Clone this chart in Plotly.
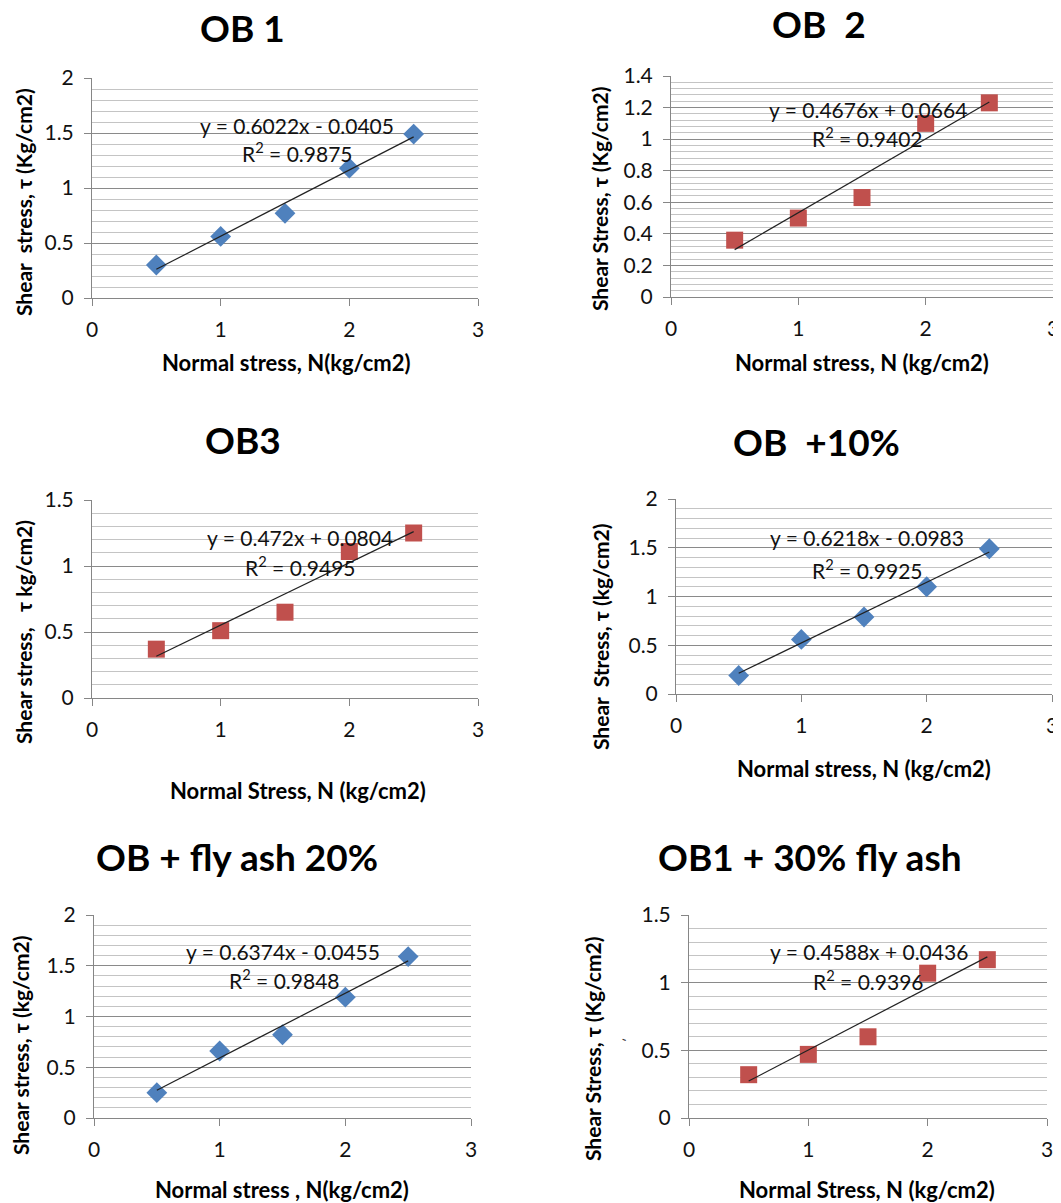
import plotly.graph_objects as go

W, H = 1061, 1203
PAGE_MARGIN = 8  # the browser's default body margin around the figure
FW, FH = W - PAGE_MARGIN, H - PAGE_MARGIN

# ---- data ----
normal_stress = [0.5, 1.0, 1.5, 2.0, 2.5]
tau_ob1 = [0.30, 0.56, 0.77, 1.18, 1.49]
tau_ob2 = [0.36, 0.50, 0.63, 1.10, 1.23]
tau_ob3 = [0.37, 0.51, 0.65, 1.11, 1.25]
tau_ob10 = [0.19, 0.56, 0.79, 1.10, 1.49]
tau_ob20 = [0.25, 0.66, 0.82, 1.19, 1.59]
tau_ob30 = [0.32, 0.47, 0.60, 1.07, 1.17]

panel_titles = ["OB 1", "OB  2", "OB3", "OB  +10%", "OB + fly ash 20%", "OB1 + 30% fly ash"]
x_titles = ["Normal stress, N(kg/cm2)", "Normal stress, N (kg/cm2)", "Normal Stress, N (kg/cm2)",
            "Normal stress, N (kg/cm2)", "Normal stress , N(kg/cm2)", "Normal Stress, N (kg/cm2)"]
y_titles = ["Shear  stress, τ (Kg/cm2)", "Shear Stress, τ (Kg/cm2)", "Shear stress,   τ kg/cm2)",
            "Shear  Stress, τ (kg/cm2)", "Shear stress, τ (kg/cm2)", "Shear Stress, τ (Kg/cm2)"]
slopes = [0.6022, 0.4676, 0.472, 0.6218, 0.6374, 0.4588]
intercepts = [-0.0405, 0.0664, 0.0804, -0.0983, -0.0455, 0.0436]
eq_labels = ["y = 0.6022x - 0.0405", "y = 0.4676x + 0.0664", "y = 0.472x + 0.0804",
             "y = 0.6218x - 0.0983", "y = 0.6374x - 0.0455", "y = 0.4588x + 0.0436"]
r2_labels = ["0.9875", "0.9402", "0.9495", "0.9925", "0.9848", "0.9396"]
y_max = [2, 1.4, 1.5, 2, 2, 1.5]
y_major = [0.5, 0.2, 0.5, 0.5, 0.5, 0.5]
y_minor = [0.1, 0.04, 0.1, 0.1, 0.1, 0.1]
x_max = 3
x_major = 1

series = [tau_ob1, tau_ob2, tau_ob3, tau_ob10, tau_ob20, tau_ob30]
symbols = ["diamond", "square", "square", "diamond", "diamond", "square"]
colors = {"diamond": "#4F81BD", "square": "#C0504D"}
sizes = {"diamond": 16, "square": 17}

# ---- layout geometry (page pixels) ----
plot_boxes = [  # x0, x1, ytop, ybottom
    (92, 478, 78, 298),
    (671, 1053, 76, 297),
    (92, 478, 500, 698),
    (676, 1052, 499, 694),
    (94, 471, 915, 1118),
    (689, 1047, 915, 1118),
]
title_pos = [(242, 27), (819, 24), (243, 440), (816, 441), (237, 856), (810, 856)]
xtitle_pos = [(286, 362), (862, 362), (298, 790), (864, 768), (282, 1189), (867, 1189)]
ytitle_pos = [(23, 202), (600, 199), (23, 632), (600, 637), (20, 1046), (592, 1049)]
eq_pos = [((297, 125), (297, 152)), ((868, 109), (867, 137)), ((300, 537), (300, 566)),
          ((867, 538), (867, 569)), ((283, 951), (284, 979)), ((869, 951), (868, 980))]

FONT = "Lato"
fig = go.Figure()
annotations = []

def px(x):
    return (x - PAGE_MARGIN) / FW

def py(y):
    return 1 - (y - PAGE_MARGIN) / FH

for i in range(6):
    ax = "" if i == 0 else str(i + 1)
    xa, ya = "x" + ax, "y" + ax
    sym = symbols[i]
    fig.add_trace(go.Scatter(
        x=normal_stress, y=series[i], mode="markers", xaxis=xa, yaxis=ya,
        marker=dict(symbol=sym, color=colors[sym], size=sizes[sym], line=dict(width=0)),
        showlegend=False, cliponaxis=False))
    xs = [normal_stress[0], normal_stress[-1]]
    fig.add_trace(go.Scatter(
        x=xs, y=[slopes[i] * v + intercepts[i] for v in xs], mode="lines",
        xaxis=xa, yaxis=ya, line=dict(color="#222222", width=1.2), showlegend=False))

    x0, x1, yt, yb = plot_boxes[i]
    fig.layout["xaxis" + ax] = dict(
        domain=[px(x0), px(x1)], anchor=ya, range=[0, x_max], dtick=x_major, tick0=0,
        showgrid=False, zeroline=False, showline=True, linecolor="#868686", linewidth=1,
        ticks="outside", ticklen=7, tickcolor="#868686", automargin=False,
        tickfont=dict(family=FONT, size=21, color="#111111"), ticklabelstandoff=6,
        fixedrange=True)
    fig.layout["yaxis" + ax] = dict(
        domain=[py(yb), py(yt)], anchor=xa, range=[0, y_max[i]], dtick=y_major[i], tick0=0,
        showgrid=True, gridcolor="#8a8a8a", gridwidth=1, zeroline=False,
        showline=True, linecolor="#868686", linewidth=1, automargin=False,
        ticks="outside", ticklen=7, tickcolor="#868686",
        tickfont=dict(family=FONT, size=21, color="#111111"), ticklabelstandoff=6,
        minor=dict(dtick=y_minor[i], tick0=0, showgrid=True, gridcolor="#c4c4c4", gridwidth=1),
        fixedrange=True)

    tx, ty = title_pos[i]
    annotations.append(dict(text="<b>%s</b>" % panel_titles[i], x=px(tx), y=py(ty),
                            xref="paper", yref="paper", showarrow=False, xanchor="center",
                            yanchor="middle", font=dict(family=FONT, size=37, color="#000000")))
    tx, ty = xtitle_pos[i]
    annotations.append(dict(text="<b>%s</b>" % x_titles[i], x=px(tx), y=py(ty),
                            xref="paper", yref="paper", showarrow=False, xanchor="center",
                            yanchor="middle", font=dict(family=FONT, size=22, color="#000000")))
    tx, ty = ytitle_pos[i]
    annotations.append(dict(text="<b>%s</b>" % y_titles[i], x=px(tx), y=py(ty), textangle=-90,
                            xref="paper", yref="paper", showarrow=False, xanchor="center",
                            yanchor="middle", font=dict(family=FONT, size=21, color="#000000")))
    (e1x, e1y), (e2x, e2y) = eq_pos[i]
    annotations.append(dict(text=eq_labels[i], x=px(e1x), y=py(e1y),
                            xref="paper", yref="paper", showarrow=False, xanchor="center",
                            yanchor="middle", font=dict(family=FONT, size=21, color="#111111")))
    annotations.append(dict(text="R<sup>2</sup> = " + r2_labels[i], x=px(e2x), y=py(e2y),
                            xref="paper", yref="paper", showarrow=False, xanchor="center",
                            yanchor="middle", font=dict(family=FONT, size=21, color="#111111")))

# stray mark beside the 0.5 tick label of the last panel
annotations.append(dict(text="-", x=px(624), y=py(1050), xref="paper", yref="paper",
                        showarrow=False, textangle=20, font=dict(family=FONT, size=14, color="#333333")))

fig.update_layout(width=FW, height=FH, margin=dict(l=0, r=0, t=0, b=0, autoexpand=False),
                  paper_bgcolor="white", plot_bgcolor="white",
                  annotations=annotations, showlegend=False)

fig.write_html("out.html")
